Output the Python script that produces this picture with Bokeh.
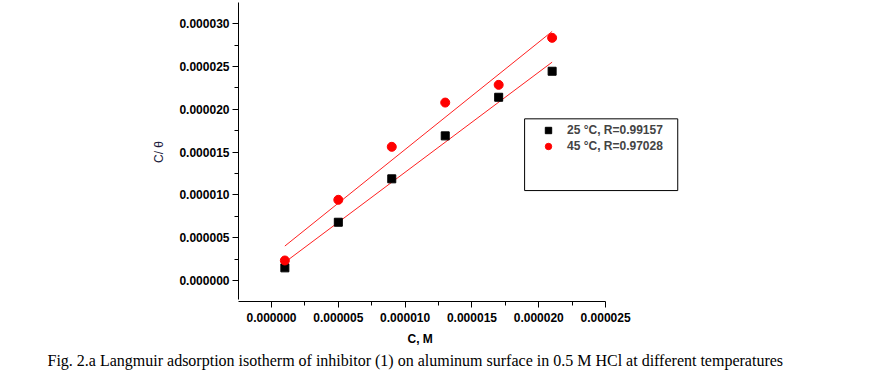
import numpy as np
from bokeh.plotting import figure
from bokeh.models import (Range1d, FixedTicker, NumeralTickFormatter, Legend, LegendItem,
                          BoxAnnotation, Title)
from bokeh.embed import file_html
from bokeh.resources import INLINE

# ---- data ----
conc = [1e-6, 5e-6, 9e-6, 13e-6, 17e-6, 21e-6]
c_theta_25 = [1.48e-6, 6.81e-6, 11.88e-6, 16.90e-6, 21.41e-6, 24.45e-6]
c_theta_45 = [2.34e-6, 9.43e-6, 15.62e-6, 20.79e-6, 22.86e-6, 28.35e-6]
label_25 = "25 °C, R=0.99157"
label_45 = "45 °C, R=0.97028"
x_ticks = [0, 5e-6, 10e-6, 15e-6, 20e-6, 25e-6]
x_minor = [-2.5e-6, 2.5e-6, 7.5e-6, 12.5e-6, 17.5e-6, 22.5e-6]
y_ticks = [0, 5e-6, 10e-6, 15e-6, 20e-6, 25e-6, 30e-6]
y_minor = [-2.5e-6, 2.5e-6, 7.5e-6, 12.5e-6, 17.5e-6, 22.5e-6, 27.5e-6, 32.5e-6]
x_title = "C, M"
y_title = "C/ θ"
caption = ("Fig. 2.a Langmuir adsorption isotherm of inhibitor (1) on aluminum surface "
           "in 0.5 M HCl at different temperatures")

p = figure(width=887, height=375, output_backend="svg", toolbar_location=None,
           x_range=Range1d(-2.47e-6, 33.6e-6), y_range=Range1d(-2.45e-6, 32.48e-6),
           min_border_left=238, min_border_top=2, min_border_right=167,
           min_border_bottom=74)
p.outline_line_color = None
p.xgrid.visible = False
p.ygrid.visible = False
p.background_fill_color = "white"

# fit lines
x = np.array(conc)
for ys in (c_theta_25, c_theta_45):
    k, b = np.polyfit(x, np.array(ys), 1)
    xx = [conc[0], conc[-1]]
    p.line(xx, [k * v + b for v in xx], line_color="#ff2020", line_width=1)

r25 = p.scatter(conc, c_theta_25, marker="square", size=8, fill_color="black",
                line_color="black")
r45 = p.scatter(conc, c_theta_45, marker="circle", size=9, fill_color="#ff0000",
                line_color="#ff0000")

for ax, ticks, minor in ((p.xaxis[0], x_ticks, x_minor), (p.yaxis[0], y_ticks, y_minor)):
    ax.ticker = FixedTicker(ticks=ticks, minor_ticks=minor)
    ax.formatter = NumeralTickFormatter(format="0.000000")
    ax.major_label_text_font = "Liberation Sans"
    ax.major_label_text_font_style = "bold"
    ax.major_label_text_font_size = "12px"
    ax.major_label_text_color = "black"
    ax.major_tick_in = 0
    ax.major_tick_out = 6
    ax.minor_tick_in = 0
    ax.minor_tick_out = 4
    ax.axis_line_color = "black"
    ax.major_tick_line_color = "black"
    ax.minor_tick_line_color = "black"
    ax.axis_label_text_font = "Liberation Sans"
    ax.axis_label_text_font_size = "12px"

p.xaxis.bounds = (-2.47e-6, 25e-6)
p.yaxis.bounds = (-2.2e-6, 32.48e-6)
p.xaxis.major_label_standoff = 5
p.yaxis.axis_label = y_title
p.yaxis.axis_label_text_font_style = "normal"
p.yaxis.axis_label_text_color = "#1c1c3c"
p.yaxis.axis_label_standoff = 10
p.yaxis.major_label_standoff = 3

# legend box
p.add_layout(BoxAnnotation(left=18.94e-6, right=30.4e-6, top=18.89e-6, bottom=10.51e-6,
                           fill_alpha=0, line_color="black", line_alpha=1.0,
                           line_width=1))

legend = Legend(items=[LegendItem(label=label_25, renderers=[r25]),
                       LegendItem(label=label_45, renderers=[r45])],
                location=(302, 147), padding=0, spacing=0, glyph_width=16,
                glyph_height=16, label_height=16, label_standoff=11,
                border_line_color=None, background_fill_alpha=0,
                label_text_font="Liberation Sans", label_text_font_style="bold",
                label_text_font_size="12px")
p.add_layout(legend, "center")

# x-axis title (centred under the drawn axis) and figure caption
p.add_layout(Title(text=x_title, align="left", offset=169, standoff=11,
                   text_font="Liberation Sans", text_font_size="12px",
                   text_font_style="bold", text_color="black"), "below")
p.add_layout(Title(text=caption, align="left", offset=-191, standoff=-4,
                   text_font="Liberation Serif", text_font_size="16px",
                   text_font_style="normal", text_color="black"), "below")

open("out.html", "w").write(file_html(p, INLINE))
